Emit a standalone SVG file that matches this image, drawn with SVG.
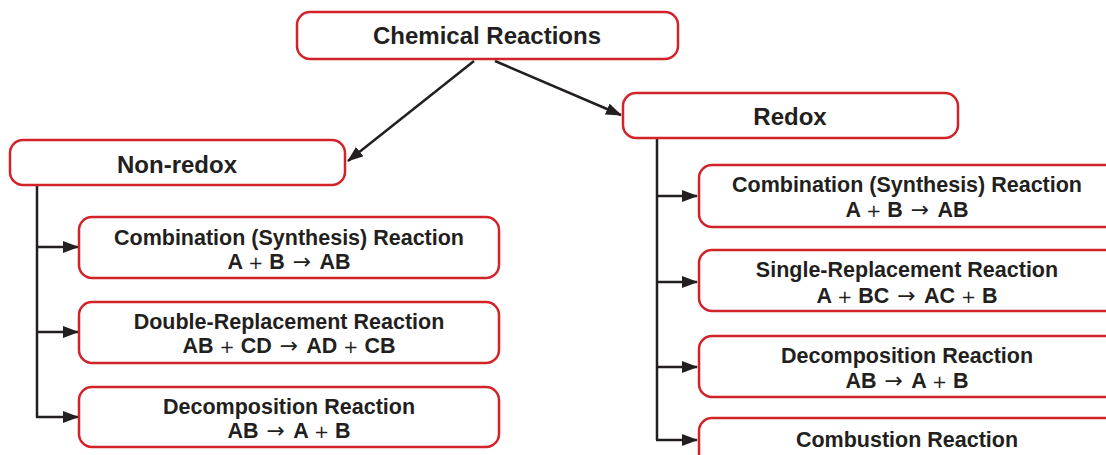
<svg xmlns="http://www.w3.org/2000/svg" width="1106" height="455" viewBox="0 0 1106 455">
<style>
.box{fill:#fff;stroke:#d2232a;stroke-width:2.5}
.hd{font-family:"Liberation Sans",Arial,sans-serif;font-weight:bold;font-size:24px;fill:#231f20;text-anchor:middle}
.tx{font-family:"Liberation Sans",Arial,sans-serif;font-weight:bold;font-size:21.5px;fill:#231f20;text-anchor:middle}
.op{font-family:"DejaVu Sans",sans-serif;font-weight:normal;font-size:18px}
.ar{font-family:"DejaVu Sans",sans-serif;font-weight:normal;font-size:22px}
.con{fill:none;stroke:#231f20;stroke-width:2.5}
</style>
<defs>
<marker id="ah" markerUnits="userSpaceOnUse" markerWidth="16" markerHeight="12" refX="15" refY="6" orient="auto">
<path d="M0,0 L16,6 L0,12 z" fill="#231f20"/>
</marker>
</defs>
<rect width="1106" height="455" fill="#fff"/>
<g id="connectors">
<line class="con" x1="474" y1="61" x2="348" y2="161" marker-end="url(#ah)"/>
<line class="con" x1="495" y1="61" x2="621" y2="115" marker-end="url(#ah)"/>
<path class="con" d="M37,185 V417"/>
<line class="con" x1="37" y1="247" x2="78" y2="247" marker-end="url(#ah)"/>
<line class="con" x1="37" y1="332" x2="78" y2="332" marker-end="url(#ah)"/>
<line class="con" x1="36" y1="417" x2="78" y2="417" marker-end="url(#ah)"/>
<path class="con" d="M657,138 V440"/>
<line class="con" x1="657" y1="196" x2="697" y2="196" marker-end="url(#ah)"/>
<line class="con" x1="657" y1="282" x2="697" y2="282" marker-end="url(#ah)"/>
<line class="con" x1="657" y1="367" x2="697" y2="367" marker-end="url(#ah)"/>
<line class="con" x1="656" y1="440" x2="697" y2="440" marker-end="url(#ah)"/>
</g>
<g id="chemical-reactions">
<rect class="box" x="297" y="12" width="381" height="47" rx="13"/>
<text class="hd" x="487" y="44">Chemical Reactions</text>
</g>
<g id="non-redox">
<rect class="box" x="10" y="140" width="335" height="45" rx="13"/>
<text class="hd" x="177" y="173">Non-redox</text>
</g>
<g id="redox">
<rect class="box" x="623" y="93" width="335" height="45" rx="13"/>
<text class="hd" x="790" y="125">Redox</text>
</g>
<g id="nr-combination">
<rect class="box" x="79" y="217" width="420" height="61" rx="13"/>
<text class="tx" x="289" y="245">Combination (Synthesis) Reaction</text>
<text class="tx" x="289" y="269">A <tspan class="op">+</tspan> B <tspan class="ar" dx="2">→</tspan><tspan dx="3"> AB</tspan></text>
</g>
<g id="nr-double">
<rect class="box" x="79" y="302" width="420" height="61" rx="13"/>
<text class="tx" x="289" y="329">Double-Replacement Reaction</text>
<text class="tx" x="289" y="353">AB <tspan class="op">+</tspan> CD <tspan class="ar" dx="2">→</tspan><tspan dx="3"> AD </tspan><tspan class="op">+</tspan> CB</text>
</g>
<g id="nr-decomposition">
<rect class="box" x="79" y="387" width="420" height="60" rx="13"/>
<text class="tx" x="289" y="414">Decomposition Reaction</text>
<text class="tx" x="289" y="438">AB <tspan class="ar" dx="2">→</tspan><tspan dx="3"> A </tspan><tspan class="op">+</tspan> B</text>
</g>
<g id="r-combination">
<rect class="box" x="699" y="165" width="420" height="62" rx="13"/>
<text class="tx" x="907" y="192">Combination (Synthesis) Reaction</text>
<text class="tx" x="907" y="217">A <tspan class="op">+</tspan> B <tspan class="ar" dx="2">→</tspan><tspan dx="3"> AB</tspan></text>
</g>
<g id="r-single">
<rect class="box" x="699" y="250" width="420" height="61" rx="13"/>
<text class="tx" x="907" y="277">Single-Replacement Reaction</text>
<text class="tx" x="907" y="303">A <tspan class="op">+</tspan> BC <tspan class="ar" dx="2">→</tspan><tspan dx="3"> AC </tspan><tspan class="op">+</tspan> B</text>
</g>
<g id="r-decomposition">
<rect class="box" x="699" y="336" width="420" height="61" rx="13"/>
<text class="tx" x="907" y="363">Decomposition Reaction</text>
<text class="tx" x="907" y="388">AB <tspan class="ar" dx="2">→</tspan><tspan dx="3"> A </tspan><tspan class="op">+</tspan> B</text>
</g>
<g id="r-combustion">
<rect class="box" x="699" y="418" width="420" height="61" rx="13"/>
<text class="tx" x="907" y="447">Combustion Reaction</text>
</g>
</svg>
